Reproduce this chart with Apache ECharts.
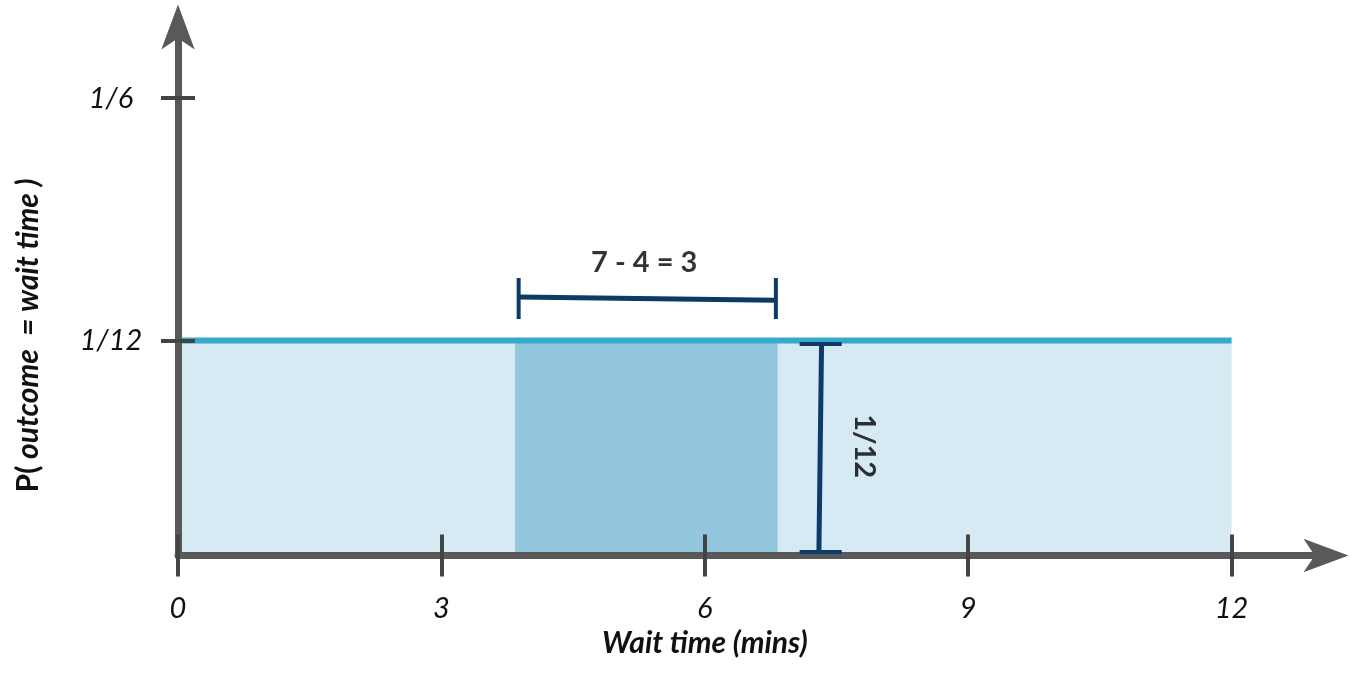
<!DOCTYPE html>
<html>
<head>
<meta charset="utf-8">
<script src="https://cdn.jsdelivr.net/npm/echarts@6/dist/echarts.min.js"></script>
<style>
  html, body { margin: 0; padding: 0; background: #fff; }
  #main { width: 1350px; height: 684px; }
</style>
</head>
<body>
<div id="main"></div>
<script>
// axis ticks
var xTicks = [0, 3, 6, 9, 12];
var yTickValues = [1 / 12, 0.1773];
var yTickLabels = ['1/12', '1/6'];

// uniform density and the shaded slice
var density = [[0, 1 / 12], [12, 1 / 12]];
var shaded = [[3.84, 1 / 12], [6.83, 1 / 12]];

// width bracket (7 - 4 = 3)
var widthBar = [[3.88, 0.1002], [6.81, 0.0990]];
var widthCapL = [[3.88, 0.1076], [3.88, 0.0917]];
var widthCapR = [[6.81, 0.1076], [6.81, 0.0917]];

// height bracket (1/12)
var heightBar = [[7.33, 0.0820], [7.30, 0.0014]];
var heightCapT = [[7.08, 0.0820], [7.56, 0.0820]];
var heightCapB = [[7.08, 0.0014], [7.56, 0.0014]];

// annotation texts
var notes = [
    { value: [5.31, 0.1134], text: '7 - 4 = 3', rotate: 0 },
    { value: [7.82, 0.0424], text: '1/12', rotate: -90 }
];

var axisGrey = '#595959';
var navy = '#0d3a66';
var font = 'Lato';

function seg(data, w) {
    return {
        type: 'line', data: data, symbol: 'none', z: 6,
        lineStyle: { color: navy, width: w }, silent: true
    };
}

var myChart = echarts.init(document.getElementById('main'));
var option = {
    animation: false,
    grid: { left: 178, right: 24.5, top: 27.5, bottom: 128.5 },
    xAxis: [{
        type: 'value', min: 0, max: 13.07, z: 5,
        splitLine: { show: false },
        axisLine: {
            show: true, onZero: false,
            lineStyle: { color: axisGrey, width: 7 },
            symbol: ['none', 'arrow'], symbolSize: [25, 45], symbolOffset: [0, 23]
        },
        axisTick: {
            show: true, length: 21, customValues: xTicks,
            lineStyle: { color: '#444', width: 4 }
        },
        axisLabel: {
            customValues: xTicks, margin: 39,
            fontFamily: font, fontStyle: 'italic', fontSize: 29, color: '#111'
        },
        name: 'Wait time (mins)', nameLocation: 'middle', nameGap: 71,
        nameTextStyle: {
            fontFamily: font, fontStyle: 'italic', fontWeight: 'bold',
            fontSize: 30, color: '#111', padding: [0, 94, 0, 0]
        }
    }, {
        type: 'value', min: 0, max: 13.07, z: 5, position: 'bottom',
        splitLine: { show: false },
        axisLine: { show: false, onZero: false },
        axisTick: {
            show: true, inside: true, length: 21, customValues: xTicks,
            lineStyle: { color: '#444', width: 4 }
        },
        axisLabel: { show: false }
    }],
    yAxis: [{
        type: 'value', min: 0, max: 0.2047, z: 5,
        splitLine: { show: false },
        axisLine: {
            show: true, onZero: false,
            lineStyle: { color: axisGrey, width: 7 },
            symbol: ['none', 'arrow'], symbolSize: [25, 45], symbolOffset: [0, 23]
        },
        axisTick: {
            show: true, length: 17, customValues: yTickValues,
            lineStyle: { color: '#444', width: 4 }
        },
        axisLabel: {
            customValues: yTickValues, margin: 67, align: 'center',
            fontFamily: font, fontStyle: 'italic', fontSize: 29, color: '#111',
            formatter: function (v) {
                var i = yTickValues.indexOf(v);
                return i >= 0 ? yTickLabels[i] : '';
            }
        },
        name: '{a|P(}{b| outcome  = wait time )}',
        nameLocation: 'middle', nameGap: 135, nameRotate: 90,
        nameTextStyle: {
            padding: [0, 88, 0, 0],
            rich: {
                a: { fontFamily: font, fontWeight: 'bold', fontSize: 30, color: '#111' },
                b: { fontFamily: font, fontWeight: 'bold', fontStyle: 'italic', fontSize: 30, color: '#111' }
            }
        }
    }, {
        type: 'value', min: 0, max: 0.2047, z: 5, position: 'left',
        splitLine: { show: false },
        axisLine: { show: false, onZero: false },
        axisTick: {
            show: true, inside: true, length: 17, customValues: yTickValues,
            lineStyle: { color: '#444', width: 4 }
        },
        axisLabel: { show: false }
    }],
    series: [{
        type: 'line', data: density, symbol: 'none', z: 1,
        lineStyle: { width: 0 },
        areaStyle: { color: '#d6eaf3', opacity: 1 }
    }, {
        type: 'line', data: shaded, symbol: 'none', z: 2,
        lineStyle: { width: 0 },
        areaStyle: { color: '#92c7dd', opacity: 1 }
    }, {
        type: 'line', data: density, symbol: 'none', z: 3,
        lineStyle: { color: '#36a9cc', width: 6 }
    },
        seg(widthBar, 5), seg(widthCapL, 4), seg(widthCapR, 4),
        seg(heightBar, 5), seg(heightCapT, 4), seg(heightCapB, 4),
    {
        type: 'scatter', symbolSize: 0, z: 7, silent: true,
        data: notes.map(function (n) {
            return {
                value: n.value,
                label: {
                    show: true, position: 'inside', formatter: n.text, rotate: n.rotate,
                    fontFamily: font, fontWeight: 'bold', fontSize: 29, color: '#000'
                }
            };
        })
    }]
};
myChart.setOption(option);
</script>
</body>
</html>
